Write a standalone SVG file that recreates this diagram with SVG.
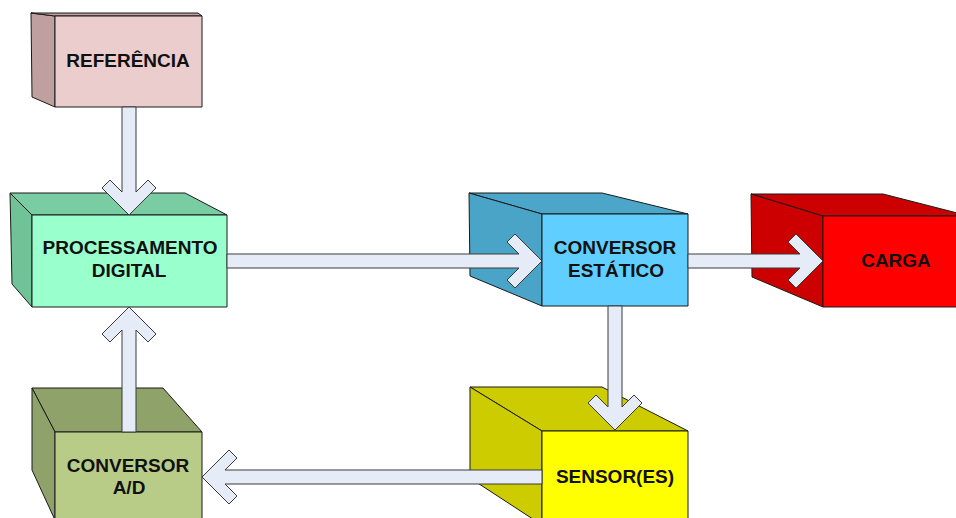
<svg xmlns="http://www.w3.org/2000/svg" width="956" height="518" viewBox="0 0 956 518">
  <style>
    .edge { stroke: #1a1a1a; stroke-width: 1; stroke-linejoin: round; }
    .label { font-family: "Liberation Sans", Arial, sans-serif; font-weight: bold; font-size: 19px; fill: #111; text-anchor: middle; }
    .arrow { fill: #E6ECF7; stroke: #3a3a3a; stroke-width: 1; stroke-linejoin: miter; }
  </style>
  <rect width="956" height="518" fill="#ffffff"/>

  <!-- Reference block -->
  <g id="referencia">
    <polygon class="edge" fill="#BF9F9F" points="31,13 55,16 55,107 32,97"/>
    <polygon class="edge" fill="#BF9F9F" points="31,13 198,13 202,16 55,16"/>
    <rect class="edge" fill="#ECCDCD" x="55" y="16" width="147" height="91"/>
    <text class="label" x="128" y="67">REFERÊNCIA</text>
  </g>

  <!-- Digital processing block -->
  <g id="processamento">
    <polygon class="edge" fill="#7ACCA3" points="10,193 185,193 227,215 32,215"/>
    <polygon class="edge" fill="#70C297" points="10,193 32,215 32,307 12,284"/>
    <rect class="edge" fill="#99FFCC" x="32" y="215" width="195" height="92"/>
    <text class="label" x="130" y="254">PROCESSAMENTO</text>
    <text class="label" x="129" y="277">DIGITAL</text>
  </g>

  <!-- Static converter block -->
  <g id="conversor-estatico">
    <polygon class="edge" fill="#4BA6C9" points="469,193 602,193 688,214 542,214"/>
    <polygon class="edge" fill="#4AA4C7" points="469,193 542,214 542,306 470,276"/>
    <rect class="edge" fill="#60CFFF" x="542" y="214" width="146" height="92"/>
    <text class="label" x="615" y="254">CONVERSOR</text>
    <text class="label" x="616" y="277">ESTÁTICO</text>
  </g>

  <!-- Load block -->
  <g id="carga">
    <polygon class="edge" fill="#CC0000" points="751,194 883,194 969,216 823,216"/>
    <polygon class="edge" fill="#CC0000" points="751,194 823,216 823,307 752,277"/>
    <rect class="edge" fill="#FF0000" x="823" y="216" width="146" height="91"/>
    <text class="label" x="896" y="267">CARGA</text>
  </g>

  <!-- A/D converter block -->
  <g id="conversor-ad">
    <polygon class="edge" fill="#8FA26A" points="32,388 163,388 202,432 55,432"/>
    <polygon class="edge" fill="#8FA26A" points="32,388 55,432 55,520 32,470"/>
    <rect class="edge" fill="#B8CC88" x="55" y="432" width="147" height="98"/>
    <text class="label" x="128" y="472">CONVERSOR</text>
    <text class="label" x="129" y="494">A/D</text>
  </g>

  <!-- Sensor block -->
  <g id="sensores">
    <polygon class="edge" fill="#CCCC00" points="470,387 602,387 688,431 542,431"/>
    <polygon class="edge" fill="#CCCC00" points="470,387 542,431 542,525 470,478"/>
    <rect class="edge" fill="#FFFF00" x="542" y="431" width="146" height="99"/>
    <text class="label" x="615" y="483">SENSOR(ES)</text>
  </g>

  <!-- Block arrows -->
  <g id="connectors">
    <polygon class="arrow" points="122,107 122,192 110,180 102,188 129,215 156,188 148,180 136,192 136,107"/>
    <polygon class="arrow" points="122,432 122,330 110,342 102,334 129,307 156,334 148,342 136,330 136,432"/>
    <polygon class="arrow" points="227,254 519,254 507,242 515,234 542,261 515,288 507,280 519,268 227,268"/>
    <polygon class="arrow" points="688,254 800,254 788,242 796,234 823,261 796,288 788,280 800,268 688,268"/>
    <polygon class="arrow" points="608,306 608,407 596,395 588,403 615,430 642,403 634,395 622,407 622,306"/>
    <polygon class="arrow" points="542,470 225,470 237,458 229,450 202,477 229,504 237,496 225,484 542,484"/>
  </g>
</svg>
